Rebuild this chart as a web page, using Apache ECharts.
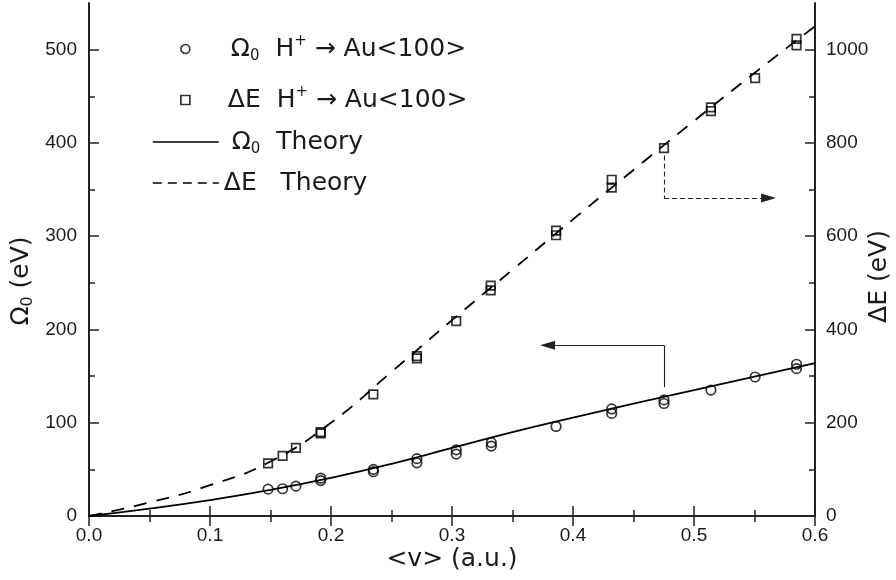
<!DOCTYPE html>
<html>
<head>
<meta charset="utf-8">
<script src="https://cdn.jsdelivr.net/npm/echarts@6/dist/echarts.min.js"></script>
<style>
html,body{margin:0;padding:0;background:#fff}
#main{width:896px;height:580px}
</style>
</head>
<body>
<div id="main"></div>
<script>
// measured Omega_0 points (left axis, eV)
var omegaX = [0.148, 0.160, 0.171, 0.1915, 0.1915, 0.235, 0.235, 0.271, 0.271, 0.3035, 0.3035,
  0.3325, 0.3325, 0.386, 0.432, 0.432, 0.4752, 0.4752, 0.514, 0.5505, 0.5847, 0.5847];
var omegaY = [28.8, 29.2, 32, 40.5, 38, 50, 47.5, 61.5, 57, 71, 66.4,
  78.7, 75, 96, 114.8, 110, 124.5, 120.6, 135, 149, 162.7, 158];

// measured Delta E points (right axis, eV)
var deltaX = [0.148, 0.160, 0.171, 0.1915, 0.1915, 0.235, 0.271, 0.271, 0.3035,
  0.332, 0.332, 0.386, 0.386, 0.432, 0.432, 0.4752, 0.514, 0.514, 0.5505, 0.5847, 0.5847];
var deltaY = [113, 129, 146, 180, 177, 261, 343, 338, 418,
  494, 484, 612, 602, 721, 704, 789, 876, 868, 939, 1023, 1009];

// theory curves
var theoryX = [0, 0.05, 0.1, 0.15, 0.2, 0.25, 0.3, 0.35, 0.4, 0.45, 0.5, 0.55, 0.6];
var omegaTheory = [0, 8, 17, 28, 41, 56, 73, 90, 105.5, 120.5, 135, 149.5, 164];
var deltaTheory = [0, 29, 66, 117, 200, 309, 420, 528, 636, 742, 847, 950, 1050];

// tick values
var leftTicks = [0, 100, 200, 300, 400, 500];
var leftMinor = [50, 150, 250, 350, 450];
var rightTicks = [0, 200, 400, 600, 800, 1000];
var rightMinor = [100, 300, 500, 700, 900];

// pointer arrows (data coords)
var omegaArrow = [[0.4752, 138], [0.4752, 183], [0.379, 183]];
var deltaArrow = [[0.4752, 773], [0.4752, 682], [0.5616, 682]];

var legendNames = ['Ω0 H+ → Au<100>', 'ΔE H+ → Au<100>', 'Ω0 Theory', 'ΔE Theory'];
var legendText = {};
legendText[legendNames[0]] = '{pad| }Ω{sub|0}  H{sup|+} → Au<100>';
legendText[legendNames[1]] = '{padd| }ΔE  H{sup|+} → Au<100>';
legendText[legendNames[2]] = ' Ω{sub|0}  Theory';
legendText[legendNames[3]] = 'ΔE   Theory';

function zip(xs, ys) {
  var out = [];
  for (var i = 0; i < xs.length; i++) out.push([xs[i], ys[i]]);
  return out;
}

var FONT = 'Liberation Sans, Arial, sans-serif';
var WIDE = 'DejaVu Sans, sans-serif';
var INK = '#1a1a1a';

var legendRich = {
  pad: {width: 36},
  padd: {width: 33},
  sub: {fontSize: 15, fontFamily: WIDE, color: INK, verticalAlign: 'bottom', lineHeight: 2},
  sup: {fontSize: 15, fontFamily: WIDE, color: INK, verticalAlign: 'top', lineHeight: 14}
};
var markerStyle = {color: 'rgba(0,0,0,0)', borderColor: '#000', borderWidth: 1.7};
var hiddenDot = {color: 'rgba(0,0,0,0)', borderWidth: 0};

var legendTops = [34, 85, 127, 168];
var legends = legendNames.map(function (n, i) {
  var isMarker = i < 2;
  var lg = {
    data: [isMarker ? {name: n, icon: i === 0 ? 'circle' : 'rect'} : n],
    left: isMarker ? 180 : 152, top: legendTops[i], orient: 'vertical', padding: 0,
    itemWidth: isMarker ? 9 : 66, itemHeight: 9, selectedMode: false,
    formatter: function (name) { return legendText[name]; },
    itemStyle: isMarker ? markerStyle : hiddenDot,
    textStyle: {fontSize: 25, fontFamily: WIDE, color: INK, lineHeight: 30, rich: legendRich}
  };
  if (i === 3) lg.lineStyle = {type: [9, 6], width: 1.6};
  if (i === 2) lg.lineStyle = {width: 1.6};
  return lg;
});

function arrowLines(pts) {
  return [
    [{coord: pts[0]}, {coord: pts[1]}],
    [{coord: pts[1]}, {coord: pts[2], symbol: 'triangle', symbolSize: [9, 15]}]
  ];
}

var tickStyle = {color: '#222', width: 1.5};
var axisLineStyle = {color: '#222', width: 2};
var plain = function (v) { return String(v); };

var option = {
  animation: false,
  backgroundColor: '#fff',
  grid: {left: 89, right: 81, top: 3, bottom: 64, outerBoundsMode: 'none', containLabel: false},
  legend: legends,
  xAxis: [{
    type: 'value', min: 0, max: 0.6, interval: 0.1, position: 'bottom',
    name: '<v> (a.u.)', nameLocation: 'middle', nameGap: 31, nameMoveOverlap: false,
    nameTextStyle: {fontSize: 25, fontFamily: WIDE, color: INK},
    axisLine: {lineStyle: axisLineStyle},
    axisTick: {inside: true, length: 10, lineStyle: tickStyle},
    minorTick: {show: true, splitNumber: 2, length: 6, lineStyle: tickStyle},
    axisLabel: {fontSize: 19, fontFamily: FONT, color: INK, margin: 10,
      formatter: function (v) { return v.toFixed(1); }},
    splitLine: {show: false}
  }, {
    type: 'value', min: 0, max: 0.6, interval: 0.1, position: 'top',
    axisLine: {lineStyle: axisLineStyle},
    axisTick: {inside: true, length: 10, lineStyle: tickStyle},
    minorTick: {show: true, splitNumber: 2, length: 6, lineStyle: tickStyle},
    axisLabel: {show: false},
    splitLine: {show: false}
  }],
  yAxis: [{
    type: 'value', min: 0, max: 550, interval: 100, position: 'left',
    name: '{t|Ω}{s|0}{t| (eV)}', nameLocation: 'middle', nameGap: 53, nameRotate: 90,
    nameMoveOverlap: false,
    nameTextStyle: {padding: [0, 43, 0, 0], rich: {
      t: {fontSize: 25, fontFamily: WIDE, color: INK, lineHeight: 30},
      s: {fontSize: 16, fontFamily: WIDE, color: INK, verticalAlign: 'bottom', lineHeight: 2}
    }},
    axisLine: {lineStyle: axisLineStyle},
    axisTick: {inside: true, length: 10, lineStyle: tickStyle, customValues: leftTicks},
    axisLabel: {fontSize: 19, fontFamily: FONT, color: INK, margin: 12,
      customValues: leftTicks, formatter: plain},
    splitLine: {show: false}
  }, {
    type: 'value', min: 0, max: 550, position: 'left',
    axisLine: {show: false},
    axisTick: {inside: true, length: 6, lineStyle: tickStyle, customValues: leftMinor},
    axisLabel: {show: false},
    splitLine: {show: false}
  }, {
    type: 'value', min: 0, max: 1100, interval: 200, position: 'right',
    name: 'ΔE (eV)', nameLocation: 'middle', nameGap: 52, nameRotate: 90,
    nameMoveOverlap: false,
    nameTextStyle: {fontSize: 25, fontFamily: WIDE, color: INK, padding: [0, 34, 0, 0]},
    axisLine: {lineStyle: axisLineStyle},
    axisTick: {inside: true, length: 10, lineStyle: tickStyle, customValues: rightTicks},
    axisLabel: {fontSize: 19, fontFamily: FONT, color: INK, margin: 11,
      customValues: rightTicks, formatter: plain},
    splitLine: {show: false}
  }, {
    type: 'value', min: 0, max: 1100, position: 'right',
    axisLine: {show: false},
    axisTick: {inside: true, length: 6, lineStyle: tickStyle, customValues: rightMinor},
    axisLabel: {show: false},
    splitLine: {show: false}
  }],
  series: [{
    name: legendNames[0], type: 'scatter', xAxisIndex: 0, yAxisIndex: 0,
    symbol: 'circle', symbolSize: 9.5, itemStyle: markerStyle, z: 4,
    emphasis: {disabled: true}, silent: true,
    data: zip(omegaX, omegaY)
  }, {
    name: legendNames[1], type: 'scatter', xAxisIndex: 0, yAxisIndex: 2,
    symbol: 'rect', symbolSize: 8.5, itemStyle: markerStyle, z: 4,
    emphasis: {disabled: true}, silent: true,
    data: zip(deltaX, deltaY)
  }, {
    name: legendNames[2], type: 'line', xAxisIndex: 0, yAxisIndex: 0,
    color: '#000', symbol: 'none', smooth: true, silent: true,
    lineStyle: {color: '#000', width: 1.8},
    data: zip(theoryX, omegaTheory),
    markLine: {
      silent: true, symbol: ['none', 'none'], label: {show: false},
      emphasis: {disabled: true},
      lineStyle: {color: '#222', width: 1.1, type: 'solid'},
      data: arrowLines(omegaArrow)
    }
  }, {
    name: legendNames[3], type: 'line', xAxisIndex: 0, yAxisIndex: 2,
    color: '#000', symbol: 'none', smooth: true, silent: true,
    lineStyle: {color: '#000', width: 1.8, type: [13, 10]},
    data: zip(theoryX, deltaTheory),
    markLine: {
      silent: true, symbol: ['none', 'none'], label: {show: false},
      emphasis: {disabled: true},
      lineStyle: {color: '#222', width: 1.1, type: [5, 3]},
      data: arrowLines(deltaArrow)
    }
  }]
};

var chart = echarts.init(document.getElementById('main'), null, {renderer: 'canvas'});
chart.setOption(option);
</script>
</body>
</html>
